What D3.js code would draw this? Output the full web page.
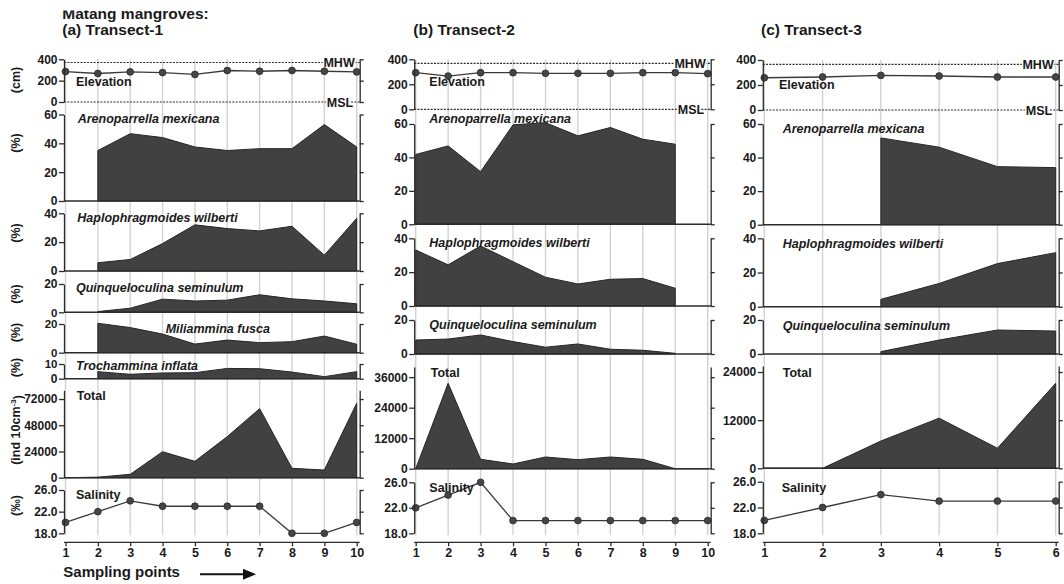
<!DOCTYPE html>
<html><head><meta charset="utf-8">
<script src="https://cdn.jsdelivr.net/npm/d3@7"></script>
<style>
body{margin:0;background:#fff;}
svg text{font-family:"Liberation Sans",Arial,Helvetica,sans-serif;font-weight:bold;fill:#1a1a1a;}
</style></head><body>
<svg id="chart" width="1064" height="584"></svg>
<script>
// ---------------- DATA ----------------
const pointsT1 = [1,2,3,4,5,6,7,8,9,10];
const pointsT2 = [1,2,3,4,5,6,7,8,9,10];
const pointsT3 = [1,2,3,4,5,6];

const elevationT1 = [285,267,282,276,258,295,288,295,288,282];
const elevationT2 = [293,266,293,293,288,288,288,293,293,285];
const elevationT3 = [258,264,277,272,264,264];
const mhwLevel = [370,368,365];
const mslLevel = 0;

const arenoparrellaT1 = [null,35,46.7,44,37.5,35,36.3,36.3,53,37.5];
const arenoparrellaT2 = [41.8,46.9,31.5,59.5,60.8,52.9,57.9,50.9,47.9,null];
const arenoparrellaT3 = [null,null,51.7,46.2,34.6,34];

const haplophragmoidesT1 = [null,5.7,8,19,32,29.4,27.8,31,11,36.5];
const haplophragmoidesT2 = [33.1,24.3,35.5,26.2,17,13,15.8,16.2,10.5,null];
const haplophragmoidesT3 = [null,null,4.3,13.6,25.2,31.6];

const quinqueloculinaT1 = [null,0.5,2.9,9.3,8,8.6,12.4,9.5,8,6];
const quinqueloculinaT2 = [8.2,8.8,11.2,7.3,4,5.9,2.8,2.2,0.4,null];
const quinqueloculinaT3 = [null,null,1.4,8.2,14.1,13.5];

const miliamminaT1 = [null,20.5,17.5,13,6,8.8,7,7.7,11.6,5.9];
const trochamminaT1 = [null,4.8,3,3.9,4.1,7,6.8,4.5,1.4,4.8];

const totalT1 = [0,500,3100,23800,15000,37600,63200,8600,7000,68100];
const totalT2 = [0,33600,3700,1850,4600,3550,4600,3700,0,0];
const totalT3 = [0,0,6800,12500,5000,21200];

const salinityT1 = [20,22,24,23,23,23,23,18,18,20];
const salinityT2 = [22,24,26,20,20,20,20,20,20,20];
const salinityT3 = [20,22,24,23,23,23];

// tick labels
const elevationTicks = [0,200,400];
const pct60Ticks = [0,20,40,60];
const pct40Ticks = [0,20,40];
const pct20Ticks = [0,20];
const pct10Ticks = [0,10];
const totalTicksT1 = [0,24000,48000,72000];
const totalTicksT2 = [0,12000,24000,36000];
const totalTicksT3 = [0,12000,24000];
const salinityTicks = [18,22,26];

const panelTitles = ['(a) Transect-1','(b) Transect-2','(c) Transect-3'];
const speciesNames = ['Arenoparrella mexicana','Haplophragmoides wilberti','Quinqueloculina seminulum','Miliammina fusca','Trochammina inflata'];

// ---------------- LAYOUT ----------------
const panels = [
 { points: pointsT1, xRange:[65.5,356.7], title:panelTitles[0], titleX:62.3,
   rows:[
    {kind:'elev', values:elevationT1, mhw:mhwLevel[0], domain:[0,400], range:[102,59.3], ticks:elevationTicks, label:'Elevation', lx:76, ly:81.7},
    {kind:'area', values:arenoparrellaT1, domain:[0,60], range:[201,114.5], ticks:pct60Ticks, label:speciesNames[0], italic:true, lx:77.7, ly:118.3},
    {kind:'area', values:haplophragmoidesT1, domain:[0,40], range:[271,213.3], ticks:pct40Ticks, label:speciesNames[1], italic:true, lx:77.3, ly:217},
    {kind:'area', values:quinqueloculinaT1, domain:[0,20], range:[312.3,284], ticks:pct20Ticks, label:speciesNames[2], italic:true, lx:76, ly:287.7, nudgeBottom:0.6},
    {kind:'area', values:miliamminaT1, domain:[0,20], range:[352.7,324], ticks:pct20Ticks, label:speciesNames[3], italic:true, lx:165.7, ly:328, nudgeTop:0.6, nudgeBottom:0.6},
    {kind:'area', values:trochamminaT1, domain:[0,10], range:[378.7,364], ticks:pct10Ticks, label:speciesNames[4], italic:true, lx:76, ly:365.3, nudgeTop:0.6},
    {kind:'area', values:totalT1, domain:[0,80000], range:[477.7,390.3], ticks:totalTicksT1, label:'Total', lx:76.7, ly:395},
    {kind:'line', values:salinityT1, domain:[18,26], range:[533.3,490], ticks:salinityTicks, label:'Salinity', lx:76, ly:494.3, dec:true}
   ]},
 { points: pointsT2, xRange:[415.7,707.7], title:panelTitles[1], titleX:413.3,
   rows:[
    {kind:'elev', values:elevationT2, mhw:mhwLevel[1], domain:[0,400], range:[109.3,59.3], ticks:elevationTicks, label:'Elevation', lx:429.3, ly:81.7},
    {kind:'area', values:arenoparrellaT2, domain:[0,60], range:[224.3,124], ticks:pct60Ticks, label:speciesNames[0], italic:true, lx:429.3, ly:118.3},
    {kind:'area', values:haplophragmoidesT2, domain:[0,40], range:[306,238.3], ticks:pct40Ticks, label:speciesNames[1], italic:true, lx:429.3, ly:242.7},
    {kind:'area', values:quinqueloculinaT2, domain:[0,20], range:[354,320], ticks:pct20Ticks, label:speciesNames[2], italic:true, lx:429.3, ly:324.7},
    {kind:'area', values:totalT2, domain:[0,40000], range:[468.7,367], ticks:totalTicksT2, label:'Total', lx:430.7, ly:372.7},
    {kind:'line', values:salinityT2, domain:[18,26], range:[533.3,482.3], ticks:salinityTicks, label:'Salinity', lx:429.3, ly:487.3, dec:true}
   ]},
 { points: pointsT3, xRange:[764.3,1055.7], title:panelTitles[2], titleX:761,
   rows:[
    {kind:'elev', values:elevationT3, mhw:mhwLevel[2], domain:[0,400], range:[110,60], ticks:elevationTicks, label:'Elevation', lx:779, ly:84},
    {kind:'area', values:arenoparrellaT3, domain:[0,60], range:[224.7,124], ticks:pct60Ticks, label:speciesNames[0], italic:true, lx:782.7, ly:128.3},
    {kind:'area', values:haplophragmoidesT3, domain:[0,40], range:[306.7,238.3], ticks:pct40Ticks, label:speciesNames[1], italic:true, lx:782.7, ly:243.3},
    {kind:'area', values:quinqueloculinaT3, domain:[0,20], range:[354,320], ticks:pct20Ticks, label:speciesNames[2], italic:true, lx:782.7, ly:325},
    {kind:'area', values:totalT3, domain:[0,25500], range:[468.3,366], ticks:totalTicksT3, label:'Total', lx:782.7, ly:372.7},
    {kind:'line', values:salinityT3, domain:[18,26], range:[533.3,481.7], ticks:salinityTicks, label:'Salinity', lx:781.7, ly:487.3, dec:true}
   ]}
];
const xAxisY = 542.3;
const AX = '#2b2b2b', AREA = '#414141', GRID = '#d2d2d2';

const svg = d3.select('#chart');

function styleAxis(g){
  g.selectAll('path.domain').attr('stroke',AX).attr('stroke-width',1.3);
  g.selectAll('.tick line').attr('stroke',AX).attr('stroke-width',1.3);
  g.selectAll('.tick text').attr('fill','#1a1a1a').style('font-size','12px').style('font-weight','bold')
   .style('font-family','"Liberation Sans",Arial,sans-serif');
}

panels.forEach(p => {
  const n = p.points.length;
  const x = d3.scaleLinear().domain([p.points[0], p.points[n-1]]).range(p.xRange);
  const leftX = x(p.points[0]) - 1.5;
  const rightX = x(p.points[n-1]) + 3;
  const g = svg.append('g');

  // gridlines
  const top = p.rows[0].range[1];
  const bottom = p.rows[p.rows.length-1].range[0] + 2;
  g.append('g').selectAll('line').data(p.points).join('line')
    .attr('x1', d => x(d)).attr('x2', d => x(d))
    .attr('y1', top).attr('y2', bottom)
    .attr('stroke', GRID).attr('stroke-width', 1.4);

  p.rows.forEach(r => {
    const y = d3.scaleLinear().domain(r.domain).range(r.range);
    const data = p.points.map((pt,i) => ({pt, v: r.values[i]}));
    const rg = g.append('g');

    if (r.kind === 'area') {
      const area = d3.area().defined(d => d.v != null)
        .x(d => x(d.pt)).y0(y(0)).y1(d => y(d.v));
      rg.append('path').datum(data).attr('d', area)
        .attr('fill', AREA).attr('stroke', '#262626').attr('stroke-width', 1).attr('stroke-linejoin','round');
      rg.append('line').attr('x1', leftX).attr('x2', rightX)
        .attr('y1', y(0)).attr('y2', y(0)).attr('stroke', AX).attr('stroke-width', 1.5);
    }
    if (r.kind === 'elev') {
      [[mslLevel,'MSL',3.5],[r.mhw,'MHW',2]].forEach(([lv,txt,off]) => {
        rg.append('line').attr('x1', leftX).attr('x2', rightX)
          .attr('y1', y(lv)).attr('y2', y(lv))
          .attr('stroke', AX).attr('stroke-width', 1.2).attr('stroke-dasharray', '2,1.3');
        rg.append('text').attr('x', x(p.points[n-1]) - off).attr('y', y(lv)).attr('dy','0.36em')
          .attr('text-anchor','end').style('font-size','12.5px')
          .attr('stroke','#fff').attr('stroke-width',3).attr('paint-order','stroke').text(txt);
      });
    }
    if (r.kind === 'elev' || r.kind === 'line') {
      const line = d3.line().x(d => x(d.pt)).y(d => y(d.v));
      rg.append('path').datum(data).attr('d', line).attr('fill','none')
        .attr('stroke','#3a3a3a').attr('stroke-width',1.3);
      rg.selectAll('circle').data(data).join('circle')
        .attr('cx', d => x(d.pt)).attr('cy', d => y(d.v)).attr('r', 3.4)
        .attr('fill', '#454545').attr('stroke','#2a2a2a').attr('stroke-width',0.8);
    }

    // left axis
    const la = rg.append('g').attr('transform', `translate(${leftX},0)`)
      .call(d3.axisLeft(y).tickValues(r.ticks).tickSize(5).tickSizeOuter(0).tickPadding(1.5)
        .tickFormat(r.dec ? d3.format('.1f') : d3.format('d')));
    styleAxis(la);
    // tightly stacked tick labels: slightly smaller and nudged a little apart
    const tv = r.ticks;
    la.selectAll('.tick text').each(function(d){
      const t = d3.select(this);
      if (d === tv[0] && r.nudgeBottom) t.attr('y', r.nudgeBottom).style('font-size','11.5px');
      if (d === tv[tv.length-1] && r.nudgeTop) t.attr('y', -r.nudgeTop).style('font-size','11.5px');
    });
    // right axis (unlabelled)
    const ra = rg.append('g').attr('transform', `translate(${rightX},0)`)
      .call(d3.axisRight(y).tickValues(r.ticks).tickSize(4).tickSizeOuter(0).tickFormat(''));
    styleAxis(ra);

    // label
    rg.append('text').attr('x', r.lx).attr('y', r.ly).attr('dy','0.36em')
      .style('font-size','12.5px').style('font-style', r.italic ? 'italic' : 'normal')
      .text(r.label);
  });

  // x axis
  const xa = g.append('g').attr('transform', `translate(0,${xAxisY})`)
    .call(d3.axisBottom(x).tickValues(p.points).tickSize(4).tickSizeOuter(0).tickPadding(2).tickFormat(d3.format('d')));
  styleAxis(xa);
  xa.select('path.domain').attr('d', `M${leftX},0H${rightX}`);
  xa.selectAll('.tick text').style('font-size','12.5px');

  // title
  svg.append('text').attr('x', p.titleX).attr('y', 35).style('font-size','15.5px').text(p.title);
});

// top title (clipped at top as in source)
svg.append('clipPath').attr('id','clipTop').append('rect').attr('x',0).attr('y',10.5).attr('width',400).attr('height',30);
svg.append('text').attr('x',62.3).attr('y',19).attr('clip-path','url(#clipTop)')
  .style('font-size','15.5px').text('Matang mangroves:');

// y axis titles (panel a)
const yTitles = [['(cm)',80],['(%)',143],['(%)',233],['(%)',294],['(%)',332.5],['(%)',367.5],['(ind 10cm',430],['(‰)',505.5]];
yTitles.forEach(([t,cy]) => {
  const tx = svg.append('text').attr('transform', `translate(15,${cy}) rotate(-90)`)
    .attr('text-anchor','middle').attr('dy','0.36em').style('font-size','12.5px');
  if (t === '(ind 10cm') {
    tx.append('tspan').text('(ind 10cm');
    tx.append('tspan').attr('dy','-0.45em').style('font-size','8px').text('-3');
    tx.append('tspan').attr('dy','0.45em').text(')');
  } else tx.text(t);
});

// x axis title with arrow
svg.append('text').attr('x',63.3).attr('y',577).style('font-size','15px').text('Sampling points');
svg.append('line').attr('x1',200).attr('x2',245).attr('y1',574.3).attr('y2',574.3)
  .attr('stroke','#111').attr('stroke-width',2);
svg.append('path').attr('d','M243,568.8L256,574.3L243,579.8Z').attr('fill','#111');
</script></body></html>
